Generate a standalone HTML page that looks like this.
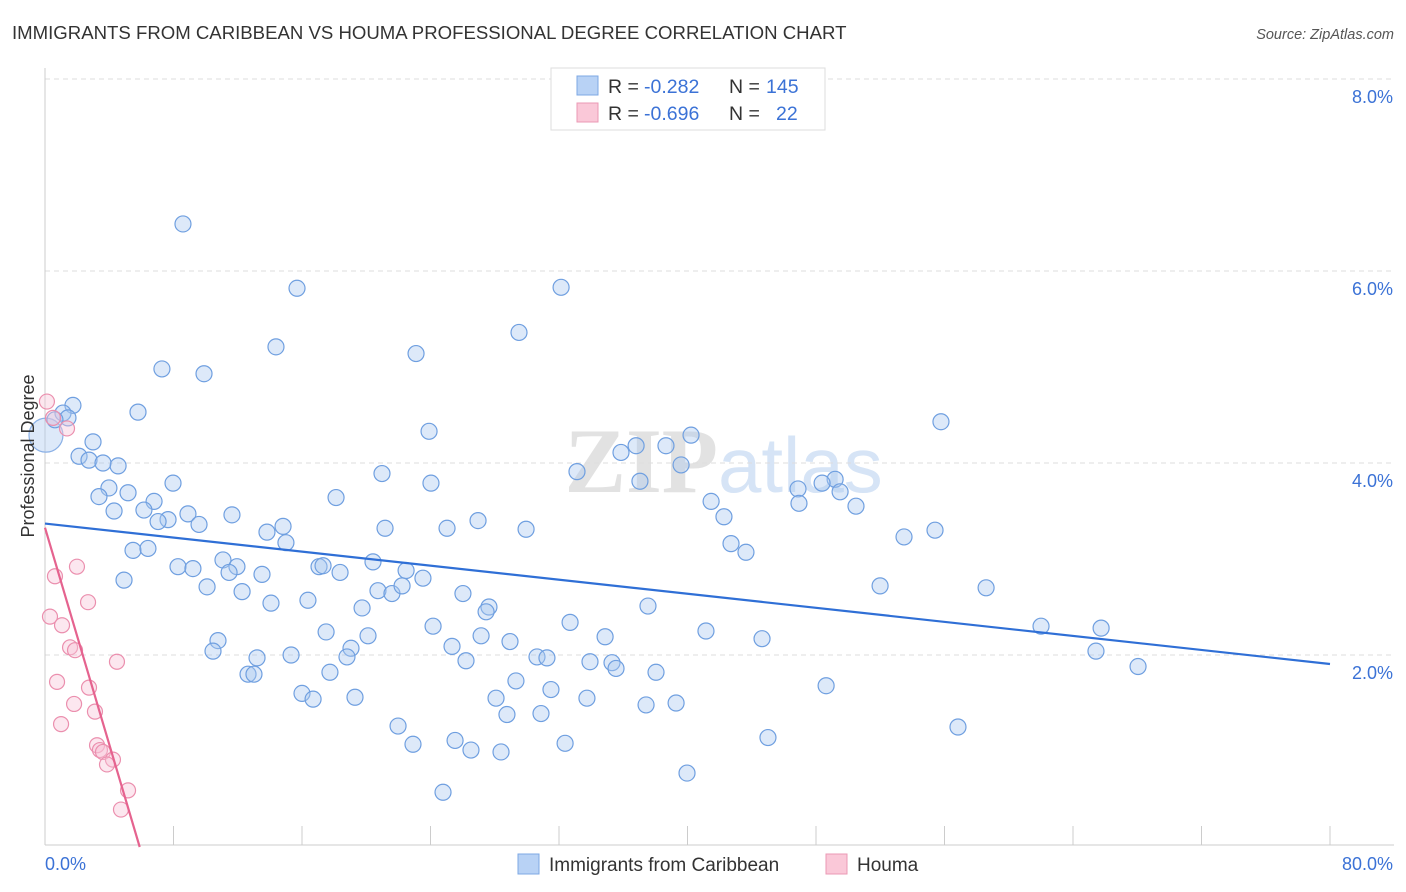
<!DOCTYPE html>
<html><head><meta charset="utf-8"><style>
body{margin:0;background:#fff;font-family:"Liberation Sans",sans-serif;}
svg{display:block}
</style></head><body>
<svg id="chart" width="1406" height="892">
<text x="12" y="39" font-size="18.6" fill="#333">IMMIGRANTS FROM CARIBBEAN VS HOUMA PROFESSIONAL DEGREE CORRELATION CHART</text>
<text x="1394" y="39" font-size="14.5" fill="#555" font-style="italic" text-anchor="end">Source: ZipAtlas.com</text>
<text x="718" y="492" font-size="92" fill="#e2e2e2" text-anchor="end" font-family="Liberation Serif" font-weight="bold">ZIP</text>
<text x="718" y="492" font-size="78" fill="#d6e4f6">atlas</text>
<g id="grid"></g>
<g id="axes"></g>
<g id="marks"></g>
<text transform="translate(34,456) rotate(-90)" font-size="18" fill="#333" text-anchor="middle">Professional Degree</text>
<g>
<rect x="551" y="68" width="274" height="62" fill="#fff" stroke="#ddd"/>
<rect x="577" y="76" width="21" height="19" fill="#b8d2f5" stroke="#7ea8e4"/>
<rect x="577" y="103" width="21" height="19" fill="#fac8d8" stroke="#eb99b4"/>
<text x="608" y="93" font-size="19.5" fill="#333">R =</text>
<text x="644" y="93" font-size="19.5" fill="#3b72d6">-0.282</text>
<text x="729" y="93" font-size="19.5" fill="#333">N =</text>
<text x="766" y="93" font-size="19.5" fill="#3b72d6">145</text>
<text x="608" y="120" font-size="19.5" fill="#333">R =</text>
<text x="644" y="120" font-size="19.5" fill="#3b72d6">-0.696</text>
<text x="729" y="120" font-size="19.5" fill="#333">N =</text>
<text x="776" y="120" font-size="19.5" fill="#3b72d6">22</text>
</g>
<g>
<rect x="518" y="854" width="21" height="20" fill="#b8d2f5" stroke="#7ea8e4"/>
<text x="549" y="871" font-size="19" fill="#333">Immigrants from Caribbean</text>
<rect x="826" y="854" width="21" height="20" fill="#fac8d8" stroke="#eb99b4"/>
<text x="857" y="871" font-size="19" fill="#333">Houma</text>
</g>
</svg>
<script>
const blueX=[8.59,15.69,32.13,29.51,14.38,23.10,7.28,9.90,5.79,1.74,1.12,1.43,0.62,55.78,23.91,2.99,2.12,2.74,4.55,3.61,33.12,35.86,36.80,38.66,40.22,39.60,20.98,7.97,24.03,37.04,3.98,5.17,3.36,18.12,6.79,4.30,6.16,8.90,7.66,7.04,9.59,11.64,41.47,46.88,49.19,48.38,49.50,50.49,46.94,42.27,13.82,14.82,21.17,25.03,26.96,29.95,55.41,53.48,15.00,42.71,43.64,5.48,6.41,4.92,11.08,8.28,9.21,11.95,11.46,13.51,17.06,17.31,18.37,20.42,22.48,23.53,10.09,12.27,51.99,58.59,20.73,21.60,22.23,16.37,14.07,26.02,19.74,27.64,27.46,37.54,24.16,32.69,41.15,17.50,27.15,34.87,44.64,10.77,10.46,20.11,19.05,25.34,28.95,62.01,65.75,65.43,15.32,13.20,18.80,26.21,30.63,31.25,33.93,35.30,35.55,38.04,12.64,13.01,17.74,29.32,68.05,48.63,16.00,16.69,19.30,31.50,28.08,33.74,37.42,39.29,28.76,30.88,21.98,56.84,22.91,25.53,26.52,28.39,32.38,45.01,39.97,24.78];
const blueY=[6.49,5.82,5.83,5.36,5.21,5.14,4.98,4.93,4.53,4.60,4.52,4.47,4.45,4.43,4.33,4.22,4.07,4.03,3.97,4.00,3.91,4.11,4.18,4.18,4.29,3.98,3.89,3.79,3.79,3.81,3.74,3.69,3.65,3.64,3.60,3.50,3.51,3.47,3.41,3.39,3.36,3.46,3.60,3.73,3.83,3.79,3.70,3.55,3.58,3.44,3.28,3.34,3.32,3.32,3.40,3.31,3.30,3.23,3.17,3.16,3.07,3.09,3.11,2.78,2.99,2.92,2.90,2.92,2.86,2.84,2.92,2.93,2.86,2.97,2.88,2.80,2.71,2.66,2.72,2.70,2.67,2.64,2.72,2.57,2.54,2.64,2.49,2.50,2.45,2.51,2.30,2.34,2.25,2.24,2.20,2.19,2.17,2.15,2.04,2.20,2.07,2.09,2.14,2.30,2.28,2.04,2.00,1.97,1.98,1.94,1.98,1.97,1.93,1.92,1.86,1.82,1.80,1.80,1.82,1.73,1.88,1.68,1.60,1.54,1.56,1.64,1.55,1.55,1.48,1.50,1.38,1.39,1.26,1.25,1.07,1.11,1.01,0.99,1.08,1.14,0.77,0.57];
const bigX=[0.06], bigY=[4.29];
const pinkX=[0.12,0.50,1.37,0.62,1.99,0.31,2.68,1.06,1.56,1.87,4.48,0.75,2.74,1.81,3.11,1.00,3.24,3.42,3.61,4.23,3.86,5.17,4.73];
const pinkY=[4.64,4.47,4.36,2.82,2.92,2.40,2.55,2.31,2.08,2.05,1.93,1.72,1.66,1.49,1.41,1.28,1.06,1.01,0.99,0.91,0.86,0.59,0.39];
const yTicks=[2,4,6,8];
const yTickLabels=["2.0%","4.0%","6.0%","8.0%"];
const xTicks=[0,8,16,24,32,40,48,56,64,72,80];

const NS="http://www.w3.org/2000/svg";
const sx=v=>45+v*1285/80;
const sy=v=>847-v*96;
function mk(tag,attrs,parent){const e=document.createElementNS(NS,tag);for(const k in attrs)e.setAttribute(k,attrs[k]);parent.appendChild(e);return e;}
const grid=document.getElementById('grid'),axes=document.getElementById('axes'),marks=document.getElementById('marks');
yTicks.forEach((t,i)=>{
  const l=mk('line',{x1:45,x2:1394,y1:sy(t),y2:sy(t),stroke:'#ddd','stroke-dasharray':'5,4'},grid);
  
  
  const tx=mk('text',{x:1393,y:sy(t)+24,'font-size':18,fill:'#3b72d6','text-anchor':'end'},axes);
  tx.textContent=yTickLabels[i];
  
  
});
const al=mk('line',{x1:45,x2:45,y1:68,y2:845,stroke:'#ccc'},axes);


const bl=mk('line',{x1:45,x2:1394,y1:845,y2:845,stroke:'#ccc'},axes);


xTicks.forEach(t=>{
  const l=mk('line',{x1:sx(t),x2:sx(t),y1:826,y2:845,stroke:'#ccc'},axes);
  
  
});
const x0=mk('text',{x:45,y:870,'font-size':18,fill:'#3b72d6'},axes);x0.textContent='0.0%';


const x1=mk('text',{x:1393,y:870,'font-size':18,fill:'#3b72d6','text-anchor':'end'},axes);x1.textContent='80.0%';



function dots(X,Y,r,fill,stroke,name){
  X.forEach((x,i)=>{
    const c=mk('circle',{cx:sx(x),cy:sy(Y[i]),r:r,fill:fill,stroke:stroke,'stroke-width':1.2},marks);
    
    
  });
}
dots(bigX,bigY,17,'rgba(170,200,240,0.4)','#8ab0e6','caribbean-point-large');
dots(blueX,blueY,8,'rgba(170,200,240,0.4)','#6f9fe0','caribbean-point');
dots(pinkX,pinkY,7.5,'rgba(248,195,214,0.4)','#eb8fae','houma-point');
function fit(X,Y){const n=X.length;let mx=0,my=0;X.forEach((x,i)=>{mx+=x;my+=Y[i];});mx/=n;my/=n;let sxy=0,sxx=0;X.forEach((x,i)=>{sxy+=(x-mx)*(Y[i]-my);sxx+=(x-mx)*(x-mx);});const b=sxy/sxx;return [my-b*mx,b];}
const fb=fit(blueX,blueY);
const tb=mk('line',{x1:sx(0),y1:sy(fb[0]),x2:sx(80),y2:sy(fb[0]+fb[1]*80),stroke:'#2f6fd6','stroke-width':2.2},marks);


const fp=fit(pinkX,pinkY);
const xe=Math.min(-fp[0]/fp[1],80);
const tp=mk('line',{x1:sx(0),y1:sy(fp[0]),x2:sx(xe),y2:sy(fp[0]+fp[1]*xe),stroke:'#e5638f','stroke-width':2.2},marks);


</script>
</body></html>
